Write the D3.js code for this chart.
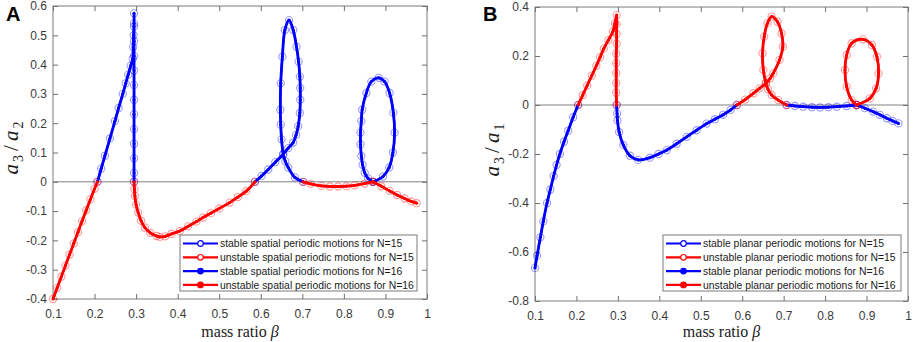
<!DOCTYPE html>
<html>
<head>
<meta charset="utf-8">
<script src="https://cdn.jsdelivr.net/npm/d3@7"></script>
<style>
  body { margin: 0; background: #fff; }
  svg { display: block; font-family: Arial, "Liberation Sans", sans-serif; }
</style>
</head>
<body>
<svg id="chart" width="913" height="342"></svg>
<script>
// tick values
const betaTicks = [0.1, 0.2, 0.3, 0.4, 0.5, 0.6, 0.7, 0.8, 0.9, 1];
const ratioTicksA = [-0.4, -0.3, -0.2, -0.1, 0, 0.1, 0.2, 0.3, 0.4, 0.5, 0.6];
const ratioTicksB = [-0.8, -0.6, -0.4, -0.2, 0, 0.2, 0.4];

// A: spatial periodic motions, [beta, a3/a2], one list per branch
const spatialStable = [
  [[0.207,0],[0.216,0.045],[0.225,0.089],[0.237,0.148],[0.249,0.207],[0.258,0.252],[0.268,0.3],[0.275,0.336],
   [0.281,0.366],[0.287,0.396],[0.292,0.42],[0.293,0.46],[0.294,0.5],[0.295,0.54],[0.295,0.575],[0.295,0.53],
   [0.295,0.48],[0.295,0.43],[0.295,0.38],[0.295,0.33],[0.295,0.28],[0.295,0.23],[0.295,0.18],[0.295,0.13],
   [0.295,0.08],[0.295,0.03],[0.295,0]],
  [[0.586,0],[0.602,0.02],[0.618,0.042],[0.635,0.067],[0.654,0.094],[0.666,0.115],[0.678,0.134],[0.685,0.16],
   [0.69,0.19],[0.694,0.235],[0.695,0.28],[0.695,0.32],[0.694,0.359],[0.691,0.41],[0.686,0.461],[0.678,0.518],
   [0.668,0.552],[0.658,0.518],[0.652,0.427],[0.648,0.336],[0.647,0.246],[0.648,0.195],[0.65,0.145],[0.654,0.094],
   [0.659,0.07],[0.666,0.049],[0.682,0.015],[0.702,0]],
  [[0.87,0],[0.858,0.012],[0.85,0.031],[0.845,0.058],[0.842,0.088],[0.84,0.128],[0.84,0.168],[0.842,0.207],
   [0.844,0.246],[0.854,0.303],[0.866,0.342],[0.884,0.355],[0.898,0.342],[0.91,0.303],[0.919,0.236],[0.922,0.168],
   [0.918,0.1],[0.909,0.049],[0.894,0.018],[0.87,0]]
];
const spatialUnstable = [
  [[0.1,-0.4],[0.11,-0.362],[0.12,-0.324],[0.13,-0.286],[0.14,-0.248],[0.15,-0.21],[0.16,-0.172],[0.17,-0.134],
   [0.18,-0.097],[0.19,-0.06],[0.2,-0.024],[0.207,0]],
  [[0.295,0],[0.296,-0.025],[0.297,-0.048],[0.3,-0.078],[0.305,-0.105],[0.312,-0.133],[0.321,-0.156],[0.334,-0.174],
   [0.349,-0.185],[0.357,-0.188],[0.37,-0.186],[0.385,-0.178],[0.405,-0.168],[0.425,-0.152],[0.445,-0.136],
   [0.461,-0.122],[0.48,-0.107],[0.5,-0.091],[0.525,-0.071],[0.545,-0.052],[0.565,-0.032],[0.586,0]],
  [[0.702,0],[0.72,-0.007],[0.746,-0.014],[0.766,-0.016],[0.786,-0.016],[0.806,-0.015],[0.826,-0.012],[0.85,-0.006],[0.87,0]],
  [[0.87,0],[0.89,-0.015],[0.91,-0.031],[0.928,-0.045],[0.946,-0.057],[0.962,-0.067],[0.975,-0.073]]
];

// B: planar periodic motions, [beta, a3/a1]
const planarStable = [
  [[0.1,-0.665],[0.105,-0.615],[0.113,-0.54],[0.12,-0.475],[0.129,-0.4],[0.137,-0.345],[0.145,-0.29],[0.152,-0.245],
   [0.16,-0.2],[0.17,-0.15],[0.18,-0.105],[0.192,-0.05],[0.204,0]],
  [[0.297,0],[0.298,-0.035],[0.299,-0.063],[0.303,-0.11],[0.313,-0.163],[0.329,-0.207],[0.349,-0.224],[0.377,-0.215],
   [0.398,-0.2],[0.418,-0.184],[0.442,-0.158],[0.466,-0.13],[0.49,-0.103],[0.514,-0.076],[0.534,-0.058],
   [0.554,-0.04],[0.572,-0.02],[0.587,0]],
  [[0.707,0],[0.727,-0.004],[0.747,-0.007],[0.768,-0.009],[0.788,-0.01],[0.808,-0.009],[0.828,-0.007],[0.852,-0.004],[0.876,0]],
  [[0.876,0],[0.896,-0.013],[0.916,-0.027],[0.932,-0.04],[0.949,-0.054],[0.963,-0.065],[0.977,-0.075]]
];
const planarUnstable = [
  [[0.204,0],[0.215,0.04],[0.226,0.08],[0.237,0.12],[0.248,0.16],[0.257,0.195],[0.266,0.23],[0.277,0.265],
   [0.288,0.3],[0.293,0.333],[0.297,0.367],[0.297,0.33],[0.297,0.29],[0.297,0.25],[0.296,0.21],[0.296,0.17],
   [0.296,0.13],[0.296,0.09],[0.296,0.05],[0.297,0]],
  [[0.587,0],[0.607,0.022],[0.627,0.048],[0.642,0.068],[0.657,0.089],[0.667,0.108],[0.675,0.13],[0.69,0.184],
   [0.698,0.238],[0.695,0.292],[0.685,0.34],[0.671,0.361],[0.661,0.334],[0.653,0.279],[0.649,0.211],[0.651,0.143],
   [0.657,0.089],[0.662,0.065],[0.671,0.041],[0.687,0.02],[0.707,0]],
  [[0.876,0],[0.864,0.02],[0.852,0.075],[0.848,0.143],[0.852,0.204],[0.864,0.252],[0.891,0.268],[0.913,0.245],
   [0.925,0.197],[0.929,0.129],[0.923,0.068],[0.908,0.027],[0.876,0]]
];

const legendA = [
  "stable spatial periodic motions for N=15",
  "unstable spatial periodic motions for N=15",
  "stable spatial periodic motions for N=16",
  "unstable spatial periodic motions for N=16"
];
const legendB = [
  "stable planar periodic motions for N=15",
  "unstable planar periodic motions for N=15",
  "stable planar periodic motions for N=16",
  "unstable planar periodic motions for N=16"
];

const BLUE = "#0000ff", RED = "#ff0000";
const svg = d3.select("#chart");
const fmt = (d) => String(+d.toFixed(1));

function drawPanel(cfg) {
  const x = d3.scaleLinear().domain([0.1, 1]).range(cfg.xr);
  const y = d3.scaleLinear().domain(cfg.yd).range(cfg.yr);
  const g = svg.append("g");
  const [x0, x1] = cfg.xr, [y1, y0] = cfg.yr;

  // zero line
  g.append("line")
    .attr("x1", x0).attr("x2", x1)
    .attr("y1", y(0)).attr("y2", y(0))
    .attr("stroke", "#808080").attr("stroke-width", 1);

  // axes, ticks inward
  const axStyle = (sel) => {
    sel.select(".domain").remove();
    sel.selectAll("line").attr("stroke", "#6e6e6e");
    sel.selectAll("text").attr("fill", "#3a3a3a").style("font-size", "12px");
  };
  g.append("g").attr("transform", `translate(0,${y1})`)
    .call(d3.axisBottom(x).tickValues(betaTicks).tickFormat(fmt).tickSize(-5).tickPadding(10))
    .call(axStyle);
  g.append("g").attr("transform", `translate(0,${y0})`)
    .call(d3.axisTop(x).tickValues(betaTicks).tickFormat("").tickSize(-5))
    .call(axStyle);
  g.append("g").attr("transform", `translate(${x0},0)`)
    .call(d3.axisLeft(y).tickValues(cfg.yTicks).tickFormat(fmt).tickSize(-5).tickPadding(6))
    .call(axStyle);
  g.append("g").attr("transform", `translate(${x1},0)`)
    .call(d3.axisRight(y).tickValues(cfg.yTicks).tickFormat("").tickSize(-5))
    .call(axStyle);

  g.append("rect")
    .attr("x", x0).attr("y", y0)
    .attr("width", x1 - x0).attr("height", y1 - y0)
    .attr("fill", "none").attr("stroke", "#7a7a7a").attr("stroke-width", 1);

  const line = d3.line()
    .x((d) => x(d[0])).y((d) => y(d[1]))
    .curve(d3.curveCatmullRom.alpha(0.5));

  const series = [
    { data: cfg.stable, color: BLUE },
    { data: cfg.unstable, color: RED }
  ];

  // N=15: line with open circles
  series.forEach((s) => {
    s.data.forEach((br) => {
      g.append("path").attr("d", line(br))
        .attr("fill", "none").attr("stroke", s.color).attr("stroke-width", 2);
      g.append("g").selectAll("circle").data(br).join("circle")
        .attr("cx", (d) => x(d[0])).attr("cy", (d) => y(d[1]))
        .attr("r", 3.6)
        .attr("fill", "none").attr("stroke", s.color)
        .attr("stroke-opacity", 0.4).attr("stroke-width", 1.1);
    });
  });
  // N=16: same curves (they coincide), thicker line with filled dots
  series.forEach((s) => {
    s.data.forEach((br) => {
      g.append("path").attr("d", line(br))
        .attr("fill", "none").attr("stroke", s.color).attr("stroke-width", 2.8);
      g.append("g").selectAll("circle").data(br).join("circle")
        .attr("cx", (d) => x(d[0])).attr("cy", (d) => y(d[1]))
        .attr("r", 1.6).attr("fill", s.color);
    });
  });

  // legend
  const lg = g.append("g").attr("transform", `translate(${cfg.legend[0]},${cfg.legend[1]})`);
  lg.append("rect").attr("width", cfg.legend[2]).attr("height", 56)
    .attr("fill", "#fff").attr("stroke", "#7a7a7a").attr("stroke-width", 1);
  cfg.labels.forEach((t, i) => {
    const cy = 8.5 + i * 13.8;
    const col = i % 2 === 0 ? BLUE : RED;
    lg.append("line").attr("x1", 3).attr("x2", 38).attr("y1", cy).attr("y2", cy)
      .attr("stroke", col).attr("stroke-width", 2.2);
    lg.append("circle").attr("cx", 20.5).attr("cy", cy).attr("r", 2.8)
      .attr("fill", i < 2 ? "#fff" : col).attr("stroke", col).attr("stroke-width", 1.2);
    lg.append("text").attr("x", 40).attr("y", cy).attr("dy", "0.35em")
      .style("font-size", "10.4px").attr("fill", "#1a1a1a").text(t);
  });

  // axis titles
  const xt = g.append("text")
    .attr("x", (x0 + x1) / 2).attr("y", 337)
    .attr("text-anchor", "middle")
    .style("font-family", "'Liberation Serif', 'Times New Roman', serif")
    .style("font-size", "16px").attr("fill", "#1a1a1a");
  xt.append("tspan").text("mass ratio ");
  xt.append("tspan").style("font-style", "italic").text("β");

  const yt = g.append("text")
    .attr("transform", `translate(${cfg.ylabX},${cfg.ylabY}) rotate(-90)`)
    .attr("text-anchor", "middle")
    .style("font-family", "'Liberation Serif', 'Times New Roman', serif")
    .style("font-size", "21px").attr("fill", "#1a1a1a");
  yt.append("tspan").style("font-style", "italic").text("a");
  yt.append("tspan").attr("dx", 2).attr("dy", 5).style("font-size", "14px").text("3");
  yt.append("tspan").attr("dx", 4).attr("dy", -5).text("/");
  yt.append("tspan").attr("dx", 4).style("font-style", "italic").text("a");
  yt.append("tspan").attr("dx", 2).attr("dy", 5).style("font-size", "14px").text(cfg.sub);

  // panel letter
  svg.append("text").attr("x", cfg.letterX).attr("y", 21)
    .style("font-size", "20px").style("font-weight", "bold").attr("fill", "#000")
    .text(cfg.letter);
}

drawPanel({
  xr: [53, 427], yr: [299, 6], yd: [-0.4, 0.6], yTicks: ratioTicksA,
  stable: spatialStable, unstable: spatialUnstable,
  legend: [180, 235, 237], labels: legendA,
  ylabX: 18, ylabY: 148, sub: "2", letter: "A", letterX: 6
});
drawPanel({
  xr: [535, 908], yr: [301, 7], yd: [-0.8, 0.4], yTicks: ratioTicksB,
  stable: planarStable, unstable: planarUnstable,
  legend: [663, 235, 238], labels: legendB,
  ylabX: 499, ylabY: 150, sub: "1", letter: "B", letterX: 483
});
</script>
</body>
</html>
